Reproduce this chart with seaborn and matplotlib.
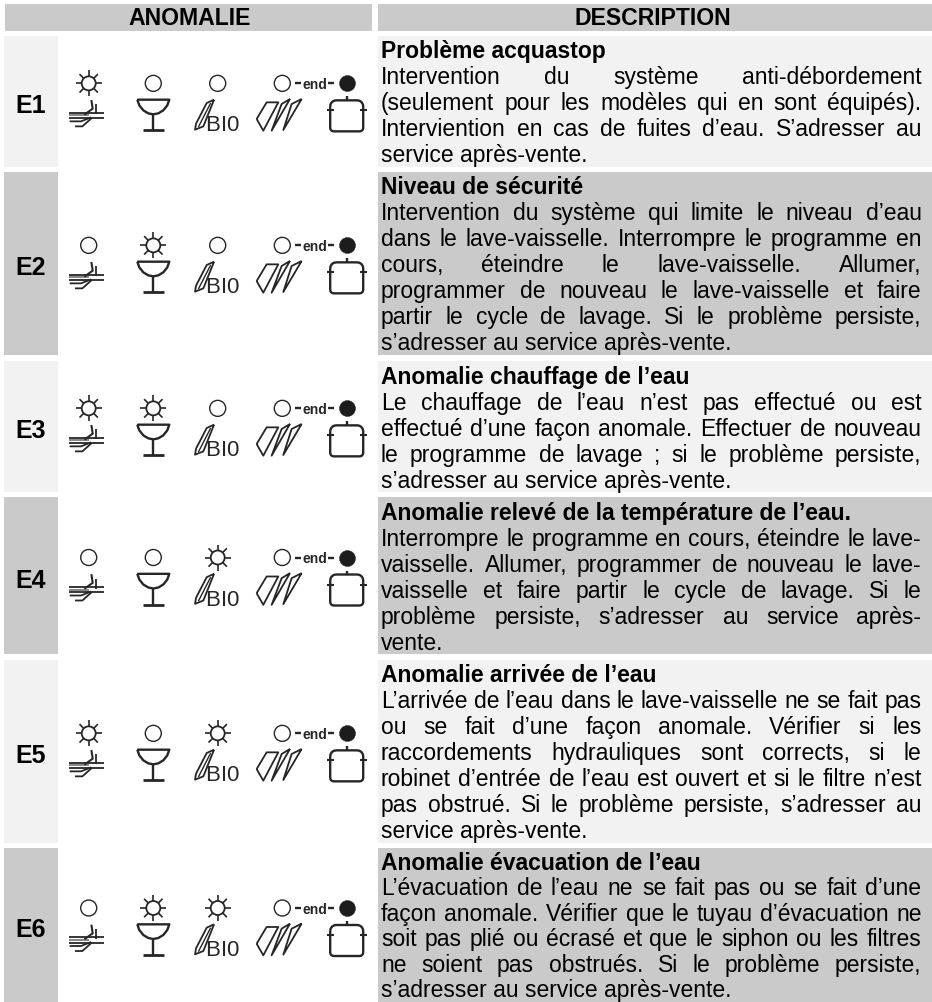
import numpy as np
import pandas as pd
import matplotlib
matplotlib.use("Agg")
import matplotlib.pyplot as plt
from matplotlib import font_manager as fm
import seaborn as sns

# ---- content ----
col_headers = ["ANOMALIE", "DESCRIPTION"]
codes = ["E1", "E2", "E3", "E4", "E5", "E6"]
titles = [
    "Problème acquastop",
    "Niveau de sécurité",
    "Anomalie chauffage de l’eau",
    "Anomalie relevé de la température de l’eau.",
    "Anomalie arrivée de l’eau",
    "Anomalie évacuation de l’eau",
]
bodies = [
    ["Intervention du système anti-débordement",
     "(seulement pour les modèles qui en sont équipés).",
     "Interviention en cas de fuites d’eau. S’adresser au",
     "service après-vente."],
    ["Intervention du système qui limite le niveau d’eau",
     "dans le lave-vaisselle. Interrompre le programme en",
     "cours, éteindre le lave-vaisselle. Allumer,",
     "programmer de nouveau le lave-vaisselle et faire",
     "partir le cycle de lavage. Si le problème persiste,",
     "s’adresser au service après-vente."],
    ["Le chauffage de l’eau n’est pas effectué ou est",
     "effectué d’une façon anomale. Effectuer de nouveau",
     "le programme de lavage ; si le problème persiste,",
     "s’adresser au service après-vente."],
    ["Interrompre le programme en cours, éteindre le lave-",
     "vaisselle. Allumer, programmer de nouveau le lave-",
     "vaisselle et faire partir le cycle de lavage. Si le",
     "problème persiste, s’adresser au service après-",
     "vente."],
    ["L’arrivée de l’eau dans le lave-vaisselle ne se fait pas",
     "ou se fait d’une façon anomale. Vérifier si les",
     "raccordements hydrauliques sont corrects, si le",
     "robinet d’entrée de l’eau est ouvert et si le filtre n’est",
     "pas obstrué. Si le problème persiste, s’adresser au",
     "service après-vente."],
    ["L’évacuation de l’eau ne se fait pas ou se fait d’une",
     "façon anomale. Vérifier que le tuyau d’évacuation ne",
     "soit pas plié ou écrasé et que le siphon ou les filtres",
     "ne soient pas obstrués. Si le problème persiste,",
     "s’adresser au service après-vente."],
]
# lamp state per fault, three first lamps: 1 = flashing (sun), 0 = off
lamp_1 = [1, 0, 1, 0, 1, 0]
lamp_2 = [0, 1, 1, 0, 0, 1]
lamp_3 = [0, 0, 0, 1, 1, 1]

# ---- layout (pixels of the page) ----
W, H = 932, 1002
row_top = [36, 172, 361, 497, 660, 848]
row_bot = [166.7, 354.7, 491.7, 654, 842.7, 1002]
row_lead = [26, 26, 26, 26, 26, 25.4]
lamp_x = [88.7, 153.3, 217.7, 282.3, 346.7]
DARK, LIGHT = "#cacaca", "#f2f2f2"
INK = "#262626"
FS_BODY = 16.5
FS_HEAD = 16.6
LEFT, RIGHT = 381, 921.5

sns.set_theme(style="white", rc={"axes.grid": False})
plt.rcParams["font.family"] = ["Liberation Sans", "DejaVu Sans"]
try:
    fm.findfont("Liberation Sans Narrow", fallback_to_default=False)
    NARROW = "Liberation Sans Narrow"
except ValueError:
    NARROW = "Liberation Sans"

fig = plt.figure(figsize=(W / 100, H / 100), dpi=100)
ax = fig.add_axes([0, 0, 1, 1])


def band(x0, x1, y0, y1, c):
    ax.barh((y0 + y1) / 2, x1 - x0, height=y1 - y0, left=x0, color=c, lw=0, zorder=1)


band(5, 372, 4, 31, DARK)
band(378, W, 4, 31, DARK)
for i in range(len(codes)):
    c = LIGHT if i % 2 == 0 else DARK
    band(3.5, 58, row_top[i], row_bot[i], c)
    band(378, W, row_top[i], row_bot[i], c)

ax.set_xlim(0, W)
ax.set_ylim(H, 0)
ax.text(190, 25, col_headers[0], fontsize=FS_HEAD, fontweight="bold", ha="center", va="baseline", color="black", zorder=5)
ax.text(653, 25, col_headers[1], fontsize=FS_HEAD, fontweight="bold", ha="center", va="baseline", color="black", zorder=5)

fig.canvas.draw()
rend = fig.canvas.get_renderer()


def justified(line, y):
    words = line.split(" ")
    items = [ax.text(0, y, w, fontsize=FS_BODY, va="baseline", ha="left", color="black", zorder=5) for w in words]
    widths = [t.get_window_extent(rend).width for t in items]
    gap = (RIGHT - LEFT - sum(widths)) / (len(words) - 1)
    x = LEFT
    for t, w in zip(items, widths):
        t.set_x(x)
        x += w + gap


centers = []
for i, code in enumerate(codes):
    cy = (row_top[i] + row_bot[i]) / 2
    centers.append(cy - 18 if i < 5 else 908)
    ax.text(31, cy + 2.5, code, fontsize=18, fontweight="bold", ha="center", va="center_baseline", color="black", zorder=5)
    y0 = round(row_top[i] + 22.5)
    ax.text(LEFT, y0, titles[i], fontsize=FS_BODY, fontweight="bold", va="baseline", color="black", zorder=5)
    body = bodies[i]
    for j, line in enumerate(body):
        y = round(y0 + (j + 1) * row_lead[i])
        if j == len(body) - 1:
            ax.text(LEFT, y, line, fontsize=FS_BODY, va="baseline", color="black", zorder=5)
        else:
            justified(line, y)

# ---- lamps, drawn with seaborn ----
rows = []
for i in range(len(codes)):
    for col, state in enumerate([lamp_1[i], lamp_2[i], lamp_3[i], 0, 2]):
        rows.append({"x": lamp_x[col], "y": centers[i], "state": state})
lamps = pd.DataFrame(rows)

sz = lambda r: (2 * r * 0.72) ** 2
sns.scatterplot(data=lamps[lamps.state == 0], x="x", y="y", s=sz(8.0), facecolor="none", edgecolor=INK, linewidth=1.0, ax=ax, zorder=4, legend=False)
sns.scatterplot(data=lamps[lamps.state == 1], x="x", y="y", s=sz(7.0), facecolor="none", edgecolor=INK, linewidth=1.3, ax=ax, zorder=4, legend=False)
sns.scatterplot(data=lamps[lamps.state == 2], x="x", y="y", s=sz(8.0), color="#1c1c1c", edgecolor="#1c1c1c", linewidth=0.3, ax=ax, zorder=4, legend=False)


def poly(cx, cy, pts, lw=1.2, closed=False, color=INK):
    p = np.array(pts, float)
    if closed:
        p = np.vstack([p, p[0]])
    ax.plot(cx + p[:, 0], cy + p[:, 1], color=color, lw=lw, solid_capstyle="butt", solid_joinstyle="round", zorder=4)


for _, r in lamps[lamps.state == 1].iterrows():
    for k in range(8):
        a = k * np.pi / 4
        poly(r.x, r.y, [(7 * np.cos(a), 7 * np.sin(a)), (13 * np.cos(a), 13 * np.sin(a))], lw=1.2)


def z(zx, zy, ox, oy):
    return ((zx - ox) / 3, (zy - oy) / 3)


def rel(pts, o):
    return [z(a, b, *o) for a, b in pts]


for cy in centers:
    # hand / water icon
    cx = lamp_x[0]
    o = (85, 72)
    poly(cx, cy, rel([(25, 160), (130, 160)], o), lw=1.3)
    poly(cx, cy, rel([(25, 176), (130, 176)], o), lw=1.3)
    poly(cx, cy, rel([(25, 168), (85, 168)], o), lw=1.1, color="#666666")
    poly(cx, cy, rel([(93, 122), (97, 148), (72, 166)], o), lw=1.5)
    poly(cx, cy, rel([(108, 135), (108, 165)], o), lw=1.3)
    poly(cx, cy, rel([(28, 186), (62, 186), (92, 174)], o), lw=1.3)
    poly(cx, cy, rel([(44, 201), (66, 201), (94, 176)], o), lw=1.3)

    # glass
    cx = lamp_x[1]
    o = (70, -21)
    bowl = [(22, 28), (28, 45), (40, 60), (55, 69), (70, 72), (85, 69), (100, 60), (112, 45), (118, 28)]
    poly(cx, cy, rel(bowl, o), lw=1.7, closed=True)
    poly(cx, cy, rel([(70, 72), (70, 120)], o), lw=1.7)
    poly(cx, cy, rel([(38, 120), (103, 120)], o), lw=2.0)

    # bio leaf and lettering
    cx = lamp_x[2]
    o = (83, -21)
    poly(cx, cy, rel([(72, 28), (50, 38), (18, 100), (15, 118), (40, 108)], o), lw=1.3, closed=True)
    poly(cx, cy, rel([(62, 38), (25, 110)], o), lw=1.0)
    for ch, zx in zip("BI0", (68, 102, 127)):
        dx, _ = z(zx, 0, *o)
        ax.text(cx + dx, cy + 48, ch, fontsize=16, fontfamily=NARROW, ha="center", va="baseline", color=INK, zorder=4)

    # dishes
    cx = lamp_x[3]
    o = (847, 248)
    poly(cx, cy, rel([(770, 355), (800, 305), (835, 305), (790, 390)], o), lw=1.3, closed=True)
    poly(cx, cy, rel([(870, 295), (845, 310), (815, 390)], o), lw=1.3, closed=True)
    poly(cx, cy, rel([(905, 295), (875, 310), (850, 388)], o), lw=1.3, closed=True)

    # -end-
    ax.text((lamp_x[3] + lamp_x[4]) / 2, cy, "end", fontsize=10, fontweight="bold", ha="center", va="center_baseline", color=INK, zorder=4)
    poly(lamp_x[3], cy, [(13, 0), (18.5, 0)], lw=1.7)
    poly(lamp_x[4], cy, [(-18.5, 0), (-12.5, 0)], lw=1.7)

    # pot
    cx = lamp_x[4]
    xl, xr, yt, yb, r1, r2 = -16.5, 16.5, 17, 48, 6, 3.5
    top_l = [(xl + r1 + r1 * np.cos(a), yt + r1 + r1 * np.sin(a)) for a in np.linspace(np.pi, 1.5 * np.pi, 6)]
    top_r = [(xr - r1 + r1 * np.cos(a), yt + r1 + r1 * np.sin(a)) for a in np.linspace(1.5 * np.pi, 2 * np.pi, 6)]
    bot_r = [(xr - r2 + r2 * np.cos(a), yb - r2 + r2 * np.sin(a)) for a in np.linspace(0, 0.5 * np.pi, 5)]
    bot_l = [(xl + r2 + r2 * np.cos(a), yb - r2 + r2 * np.sin(a)) for a in np.linspace(0.5 * np.pi, np.pi, 5)]
    poly(cx, cy, top_l + top_r + bot_r + bot_l, lw=1.7, closed=True)
    poly(cx, cy, [(0, 13), (0, 17)], lw=1.7)
    poly(cx, cy, [(-20, 27), (-13, 27)], lw=1.5)
    poly(cx, cy, [(13, 27), (20, 27)], lw=1.5)

ax.set_xlim(0, W)
ax.set_ylim(H, 0)
ax.axis("off")
fig.savefig("out.png", dpi=100, facecolor="white")
